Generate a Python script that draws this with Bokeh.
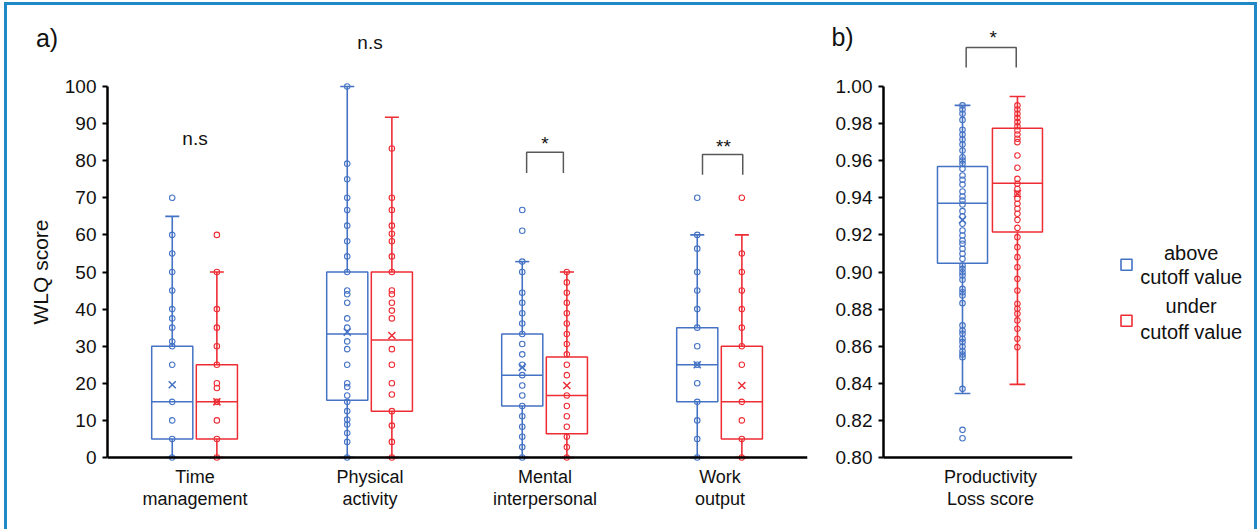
import math
from bokeh.plotting import figure
from bokeh.models import Range1d, FixedTicker, ColumnDataSource
from bokeh.layouts import row
from bokeh.core.properties import value
from bokeh.embed import file_html
from bokeh.resources import INLINE

FONT = "Liberation Sans"
BLUE = "#4472C4"
RED = "#EE2C34"
GRAY = "#595959"
TXT = "#111111"

# ---------------- data: panel a ----------------
categories = ["Time\nmanagement", "Physical\nactivity", "Mental\ninterpersonal", "Work\noutput"]

time_above = [0, 5, 10, 15, 25, 30, 31.25, 35, 37.5, 40, 45, 50, 55, 60, 70]
time_under = [0, 5, 10, 15, 18.75, 20, 25, 30, 35, 40, 50, 60]
phys_above = [0, 4.2, 6.6, 8.9, 10.2, 12.5, 15, 16.7, 19, 20, 25, 29.2, 31.3, 35, 37.5,
              41.7, 44, 45, 50, 54.2, 58.3, 62.5, 66.7, 70, 75, 79.2, 100]
phys_under = [0, 4.2, 8.6, 12.5, 17, 20, 25, 29.2, 37.5, 39.6, 41.7, 44, 45, 50, 54.2,
              58.3, 60.3, 62.5, 66.7, 70, 83.3]
ment_above = [0, 2.8, 5.6, 8.3, 11.1, 13.9, 16.7, 19.4, 22.2, 25, 27.8, 30.6, 33.3, 36.1,
              38.9, 41.7, 44.4, 50, 52.8, 61.1, 66.7]
ment_under = [0, 2.8, 5.6, 8.3, 11.1, 13.9, 16.7, 22.2, 25, 27.8, 30.6, 33.3, 36.1, 38.9,
              41.7, 44.4, 47.2, 50]
work_above = [0, 5, 10, 15, 20, 25, 30, 35, 40, 45, 50, 56.3, 60, 70]
work_under = [0, 5, 10, 15, 25, 30, 35, 40, 45, 50, 55, 70]

# box statistics per category (above cutoff / under cutoff)
above_wlo = [0, 0, 0, 0]
above_q1 = [5, 15.4, 13.9, 15]
above_med = [15, 33.3, 22.2, 25]
above_q3 = [30, 50, 33.3, 35]
above_whi = [65, 100, 52.8, 60]
above_mean = [19.6, 33.8, 24.3, 25]

under_wlo = [0, 0, 0, 0]
under_q1 = [5, 12.5, 6.4, 5]
under_med = [15, 31.7, 16.7, 15]
under_q3 = [25, 50, 27.1, 30]
under_whi = [50, 91.7, 50, 60]
under_mean = [15, 32.9, 19.4, 19.4]

a_ticks = [0, 10, 20, 30, 40, 50, 60, 70, 80, 90, 100]
a_ylabel = "WLQ score"

# ---------------- data: panel b ----------------
plr_category = ["Productivity\nLoss score"]
plr_above = [0.9898, 0.9876, 0.9853, 0.9820, 0.9767, 0.9741, 0.9714, 0.9687, 0.9655, 0.9619,
             0.9601, 0.9583, 0.9556, 0.9520, 0.9497, 0.9472, 0.9434, 0.9407, 0.9385, 0.9364,
             0.9328, 0.9299, 0.9260, 0.9224, 0.9197, 0.9170, 0.9152, 0.9125, 0.9098, 0.9071,
             0.9035, 0.9017, 0.8999, 0.8981, 0.8958, 0.8909, 0.8891, 0.8873, 0.8832, 0.8712,
             0.8685, 0.8667, 0.8640, 0.8622, 0.8598, 0.8573, 0.8555, 0.8541, 0.8370, 0.8149,
             0.8104]
plr_under = [0.9898, 0.9876, 0.9853, 0.9831, 0.9808, 0.9786, 0.9763, 0.9741, 0.9718, 0.9700,
             0.9628, 0.9562, 0.9502, 0.9476, 0.9449, 0.9422, 0.9395, 0.9368, 0.9341, 0.9314,
             0.9281, 0.9238, 0.9188, 0.9134, 0.9080, 0.9026, 0.8963, 0.8900, 0.8829, 0.8802,
             0.8775, 0.8739, 0.8694, 0.8640, 0.8595]
plr_above_stats = dict(wlo=0.8345, q1=0.9047, med=0.9371, q3=0.9569, whi=0.9898, mean=0.9281)
plr_under_stats = dict(wlo=0.8394, q1=0.9215, med=0.9479, q3=0.9775, whi=0.9946, mean=0.9422)
b_ticks = [0.80, 0.82, 0.84, 0.86, 0.88, 0.90, 0.92, 0.94, 0.96, 0.98, 1.00]

series_labels = ["above\ncutoff value", "under\ncutoff value"]
panel_labels = ["a)", "b)"]

# significance marks
a_sig_text = ["n.s", "n.s", "*", "**"]
a_sig_y = [86, 111.9, 84.6, 83.8]
b_sig_text = ["*"]

TOP, BOTTOM = 15, 9   # shared borders so the frames line up: frame spans canvas y 20..520


def style_axes(p, ticks, overrides=None):
    for ax in p.yaxis:
        ax.ticker = FixedTicker(ticks=ticks)
        ax.bounds = (ticks[0], ticks[-1])
        ax.axis_line_width = 2.5
        ax.axis_line_color = "black"
        ax.major_tick_line_width = 2
        ax.major_tick_out = 5
        ax.major_tick_in = 0
        ax.minor_tick_line_color = None
        ax.major_label_text_font = FONT
        ax.major_label_text_font_size = "19px"
        ax.major_label_text_color = TXT
        ax.major_label_standoff = 6
        if overrides:
            ax.major_label_overrides = overrides
    for ax in p.xaxis:
        ax.axis_line_width = 2.5
        ax.axis_line_color = "black"
        ax.major_tick_line_color = None
        ax.minor_tick_line_color = None
        ax.major_label_text_font = FONT
        ax.major_label_text_font_size = "18px"
        ax.major_label_text_color = TXT
        ax.major_label_text_line_height = 1.1
        ax.major_label_standoff = 3
    p.grid.visible = False
    p.outline_line_color = None
    p.background_fill_color = None
    p.border_fill_color = None


def draw_box(p, xs, wlo, q1, med, q3, whi, mean, color, width, cap):
    src = ColumnDataSource(dict(x=xs, wlo=wlo, q1=q1, med=med, q3=q3, whi=whi, mean=mean,
                                left=[x - width / 2 for x in xs], right=[x + width / 2 for x in xs],
                                cl=[x - cap / 2 for x in xs], cr=[x + cap / 2 for x in xs]))
    p.segment(x0="x", y0="wlo", x1="x", y1="q1", source=src, line_color=color, line_width=1.6)
    p.segment(x0="x", y0="q3", x1="x", y1="whi", source=src, line_color=color, line_width=1.6)
    p.segment(x0="cl", y0="wlo", x1="cr", y1="wlo", source=src, line_color=color, line_width=1.6)
    p.segment(x0="cl", y0="whi", x1="cr", y1="whi", source=src, line_color=color, line_width=1.6)
    p.quad(left="left", right="right", bottom="q1", top="q3", source=src,
           fill_color=None, line_color=color, line_width=1.5)
    p.segment(x0="left", y0="med", x1="right", y1="med", source=src, line_color=color, line_width=1.5)
    return src


def draw_points(p, x, values, color):
    p.scatter(x=[x] * len(values), y=values, marker="circle", size=5.5,
              fill_color="white", fill_alpha=0.0, line_color=color, line_width=1.1)


def draw_mean(p, src, color):
    p.scatter(x="x", y="mean", source=src, marker="x", size=10, line_color=color, line_width=1.5)


# ---------------- narrow strip with "a)" and the y title of panel a ----------------
pn = figure(width=53, height=524, x_range=Range1d(7, 60), y_range=Range1d(520, 20),
            min_border_left=0, min_border_right=0, min_border_top=TOP, min_border_bottom=BOTTOM,
            output_backend="svg", toolbar_location=None)
pn.axis.visible = False
pn.grid.visible = False
pn.outline_line_color = None
pn.text(x=[46.5], y=[37.5], text=[panel_labels[0]], text_align="center", text_baseline="middle",
        text_font=value(FONT), text_font_size="25px", text_color=TXT)
pn.text(x=[40], y=[271.5], text=[a_ylabel], angle=math.pi / 2, text_align="center",
        text_baseline="middle", text_font=value(FONT), text_font_size="21px", text_color=TXT)

# ---------------- panel a ----------------
pa = figure(width=760, height=524, x_range=Range1d(0.5, 4.5), y_range=Range1d(-63 / 3.71, 437 / 3.71),
            min_border_left=47, min_border_right=13, min_border_top=TOP, min_border_bottom=BOTTOM,
            output_backend="svg", toolbar_location=None)
style_axes(pa, a_ticks)
pa.xaxis.fixed_location = 0
pa.xaxis.ticker = FixedTicker(ticks=[1, 2, 3, 4])
pa.xaxis.major_label_overrides = {i + 1: c for i, c in enumerate(categories)}

OFF_A, OFF_U, BW, CAP = -0.13, 0.125, 0.235, 0.08
xa = [i + 1 + OFF_A for i in range(4)]
xu = [i + 1 + OFF_U for i in range(4)]
sa = draw_box(pa, xa, above_wlo, above_q1, above_med, above_q3, above_whi, above_mean, BLUE, BW, CAP)
su = draw_box(pa, xu, under_wlo, under_q1, under_med, under_q3, under_whi, under_mean, RED, BW, CAP)
for x, vals in zip(xa, [time_above, phys_above, ment_above, work_above]):
    draw_points(pa, x, vals, BLUE)
for x, vals in zip(xu, [time_under, phys_under, ment_under, work_under]):
    draw_points(pa, x, vals, RED)
draw_mean(pa, sa, BLUE)
draw_mean(pa, su, RED)

pa.text(x=[1, 2, 3, 4.02], y=a_sig_y, text=a_sig_text, text_align="center", text_baseline="middle",
        text_font=value(FONT), text_font_size="19px", text_color=TXT)
br_x = [[3 - 0.105, 3 - 0.105, 3 + 0.105, 3 + 0.105], [4 - 0.10, 4 - 0.10, 4 + 0.13, 4 + 0.13]]
br_y = [[76.7, 82.3, 82.3, 76.7], [76.2, 81.7, 81.7, 76.2]]
pa.multi_line(xs=br_x, ys=br_y, line_color=GRAY, line_width=1.5)

# ---------------- panel b ----------------
B_AXIS_X = 1 - 107 / 175
pb = figure(width=270, height=524, x_range=Range1d(1 - 165 / 175, 1 + 82 / 175),
            y_range=Range1d(0.8 - 63 / 1855, 0.8 + 437 / 1855),
            min_border_left=5, min_border_right=18, min_border_top=TOP, min_border_bottom=BOTTOM,
            output_backend="svg", toolbar_location=None)
style_axes(pb, b_ticks, {t: f"{t:.2f}" for t in b_ticks})
pb.yaxis.fixed_location = B_AXIS_X
pb.xaxis.fixed_location = 0.8
pb.xaxis.bounds = (B_AXIS_X, 1 + 82 / 175)
pb.xaxis.ticker = FixedTicker(ticks=[1])
pb.xaxis.major_label_overrides = {1: plr_category[0]}

OB_A, OB_U, BWB, CAPB = -0.16, 0.154, 0.286, 0.09
sba = draw_box(pb, [1 + OB_A], [plr_above_stats["wlo"]], [plr_above_stats["q1"]], [plr_above_stats["med"]],
               [plr_above_stats["q3"]], [plr_above_stats["whi"]], [plr_above_stats["mean"]], BLUE, BWB, CAPB)
sbu = draw_box(pb, [1 + OB_U], [plr_under_stats["wlo"]], [plr_under_stats["q1"]], [plr_under_stats["med"]],
               [plr_under_stats["q3"]], [plr_under_stats["whi"]], [plr_under_stats["mean"]], RED, BWB, CAPB)
draw_points(pb, 1 + OB_A, plr_above, BLUE)
draw_points(pb, 1 + OB_U, plr_under, RED)
draw_mean(pb, sba, BLUE)
draw_mean(pb, sbu, RED)
pb.multi_line(xs=[[1 - 0.139, 1 - 0.139, 1 + 0.147, 1 + 0.147]], ys=[[1.0102, 1.0210, 1.0210, 1.0102]],
              line_color=GRAY, line_width=1.5)
pb.text(x=[1.015], y=[1.0266], text=b_sig_text, text_align="center", text_baseline="middle",
        text_font=value(FONT), text_font_size="19px", text_color=TXT)
pb.text(x=[1 - 148 / 175], y=[1.0266], text=[panel_labels[1]], text_align="center", text_baseline="middle",
        text_font=value(FONT), text_font_size="25px", text_color=TXT)

# ---------------- legend ----------------
pl = figure(width=164, height=524, x_range=Range1d(1090, 1254), y_range=Range1d(520, 20),
            min_border_left=0, min_border_right=0, min_border_top=TOP, min_border_bottom=BOTTOM,
            output_backend="svg", toolbar_location=None)
pl.axis.visible = False
pl.grid.visible = False
pl.outline_line_color = None
pl.scatter(x=[1126, 1126], y=[264.3, 320.3], marker="square", size=11, fill_color=None,
           line_color=[BLUE, RED], line_width=1.6)
leg_lines = [ln for lab in series_labels for ln in lab.split("\n")]
pl.text(x=[1190.7] * 4, y=[252, 276, 305, 331], text=leg_lines, text_align="center",
        text_baseline="middle", text_font=value(FONT), text_font_size="20px", text_color=TXT)

layout = row(pn, pa, pb, pl, styles={"border-top": "3px solid #1f88c6", "border-left": "3px solid #1f88c6",
                                       "border-right": "3px solid #1f88c6", "margin-left": "4px",
                                       "margin-top": "2px"})

open("out.html", "w").write(file_html(layout, INLINE))
